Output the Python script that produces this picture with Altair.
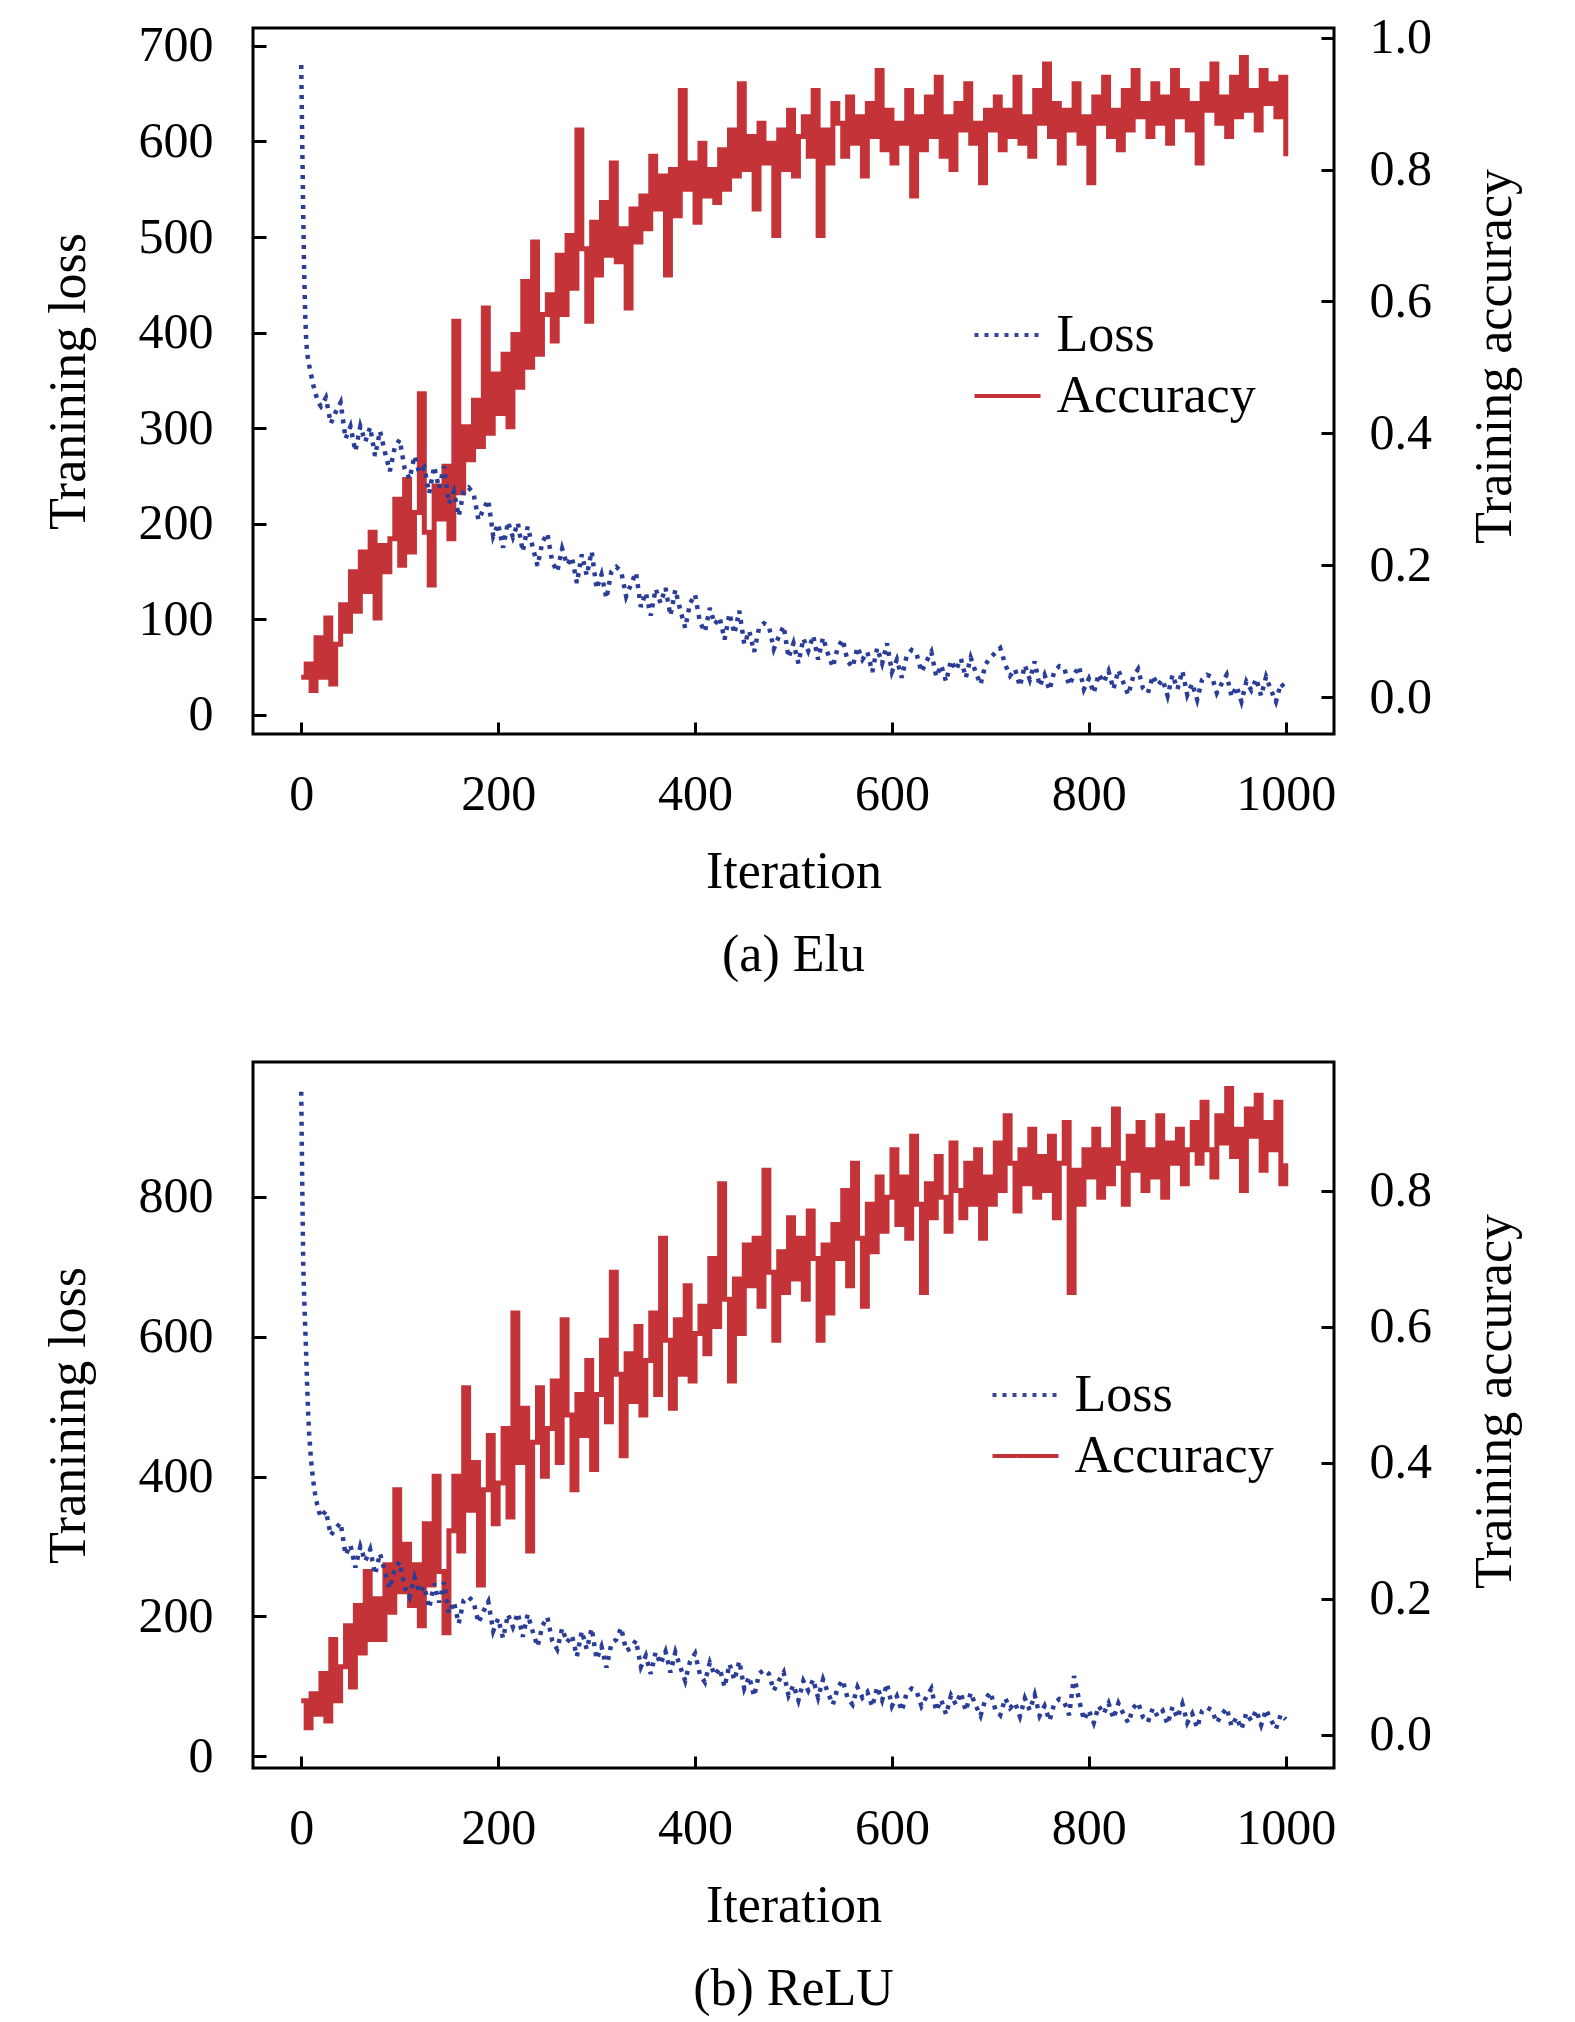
import altair as alt
import pandas as pd

RED = "#c0282d"
BLUE = "#2b3d96"
FONT = "Liberation Serif"

X_TICKS = [0, 200, 400, 600, 800, 1000]

# ---------------- (a) Elu ----------------
A_LOSS_ITER = [0, 1, 2, 3, 4, 5, 6, 8, 10, 12, 14, 16, 18, 20] + list(range(25, 1001, 5))
A_LOSS = [
    680, 600, 525, 462, 420, 393, 378, 366, 356, 346, 338, 331, 326, 323,
    332, 305, 317, 327, 289, 302, 276, 302, 286, 301,
    271, 297, 275, 255, 280, 288, 258, 247, 271, 253,
    259, 232, 260, 237, 260, 221, 234, 208, 234, 238,
    232, 204, 215, 225, 187, 200, 175, 202, 186, 201,
    171, 197, 176, 156, 181, 190, 160, 150, 174, 157,
    165, 138, 168, 146, 171, 132, 147, 122, 150, 155,
    150, 124, 137, 149, 113, 128, 104, 132, 117, 133,
    104, 131, 110, 91, 117, 126, 97, 87, 112, 95,
    102, 79, 106, 85, 109, 74, 88, 66, 91, 96,
    93, 69, 82, 93, 60, 75, 54, 80, 67, 83,
    58, 81, 64, 50, 71, 79, 56, 50, 71, 58,
    66, 45, 70, 54, 75, 45, 58, 39, 62, 68,
    64, 45, 56, 66, 40, 52, 35, 57, 47, 59,
    39, 60, 45, 32, 53, 60, 65, 70, 53, 41,
    48, 30, 52, 37, 56, 30, 42, 26, 46, 51,
    49, 31, 42, 51, 27, 38, 23, 43, 34, 46,
    27, 47, 34, 21, 40, 48, 28, 23, 41, 31,
    37, 20, 42, 27, 46, 21, 33, 16, 37, 42,
    40, 23, 33, 42, 19, 30, 14, 35, 26, 38,
    20, 40, 26, 14, 33, 27,
]
# accuracy, one value every 5 iterations (0..1000)
A_ACC = [
    0.03, 0.05, 0.01,
    0.09, 0.03, 0.12, 0.02, 0.08,
    0.14, 0.10, 0.19, 0.13,
    0.22, 0.16, 0.25, 0.12, 0.23, 0.19,
    0.24, 0.30, 0.20, 0.33, 0.22, 0.28, 0.46, 0.25, 0.17, 0.32, 0.27,
    0.35, 0.24, 0.57, 0.31, 0.41, 0.36,
    0.45, 0.38, 0.59, 0.40, 0.49, 0.43, 0.52, 0.41,
    0.55, 0.47, 0.63, 0.50, 0.69, 0.52, 0.58,
    0.61, 0.54, 0.67, 0.58, 0.70, 0.62, 0.86,
    0.68, 0.57, 0.72, 0.64, 0.75, 0.67, 0.81, 0.66, 0.71, 0.59, 0.74, 0.69,
    0.76, 0.71, 0.82, 0.74, 0.79, 0.64, 0.80, 0.73, 0.92, 0.77, 0.81, 0.72, 0.84, 0.76, 0.80, 0.75,
    0.83, 0.77, 0.86, 0.79, 0.93, 0.80, 0.85, 0.74, 0.87, 0.81, 0.84, 0.70, 0.86, 0.80, 0.89, 0.79, 0.85,
    0.88, 0.82, 0.92, 0.70, 0.86, 0.81, 0.90,
    0.87, 0.82, 0.91, 0.84, 0.88, 0.79, 0.90, 0.85, 0.95, 0.83, 0.89, 0.81, 0.87, 0.84, 0.92, 0.76,
    0.88, 0.83, 0.91, 0.85, 0.94, 0.82, 0.88, 0.80, 0.90, 0.86, 0.93, 0.84, 0.87, 0.78, 0.89,
    0.86, 0.91, 0.83, 0.89, 0.85, 0.94, 0.84, 0.88, 0.82, 0.92, 0.87, 0.96, 0.85, 0.90, 0.81, 0.89,
    0.86, 0.93, 0.84, 0.88, 0.78, 0.91, 0.87, 0.94, 0.85, 0.89, 0.83, 0.92, 0.86, 0.95, 0.88,
    0.90, 0.85, 0.93, 0.87, 0.91, 0.84, 0.95, 0.88, 0.92, 0.86, 0.90, 0.81, 0.93, 0.89, 0.96,
    0.87, 0.91, 0.85, 0.94, 0.88, 0.97, 0.89, 0.92, 0.86, 0.95, 0.90, 0.93, 0.88, 0.94, 0.82,
]
A_LOSS_TICKS = [0, 100, 200, 300, 400, 500, 600, 700]
A_ACC_TICKS = [0.0, 0.2, 0.4, 0.6, 0.8, 1.0]

# ---------------- (b) ReLU ----------------
B_LOSS_ITER = [0, 1, 2, 3, 4, 5, 6, 7, 8, 10, 12, 14, 16, 18, 20] + list(range(25, 1001, 5))
B_LOSS = [
    950, 820, 705, 655, 615, 575, 530, 492, 462, 422, 396, 376, 361, 350, 342,
    351, 316, 326, 334, 288, 302, 270, 300, 279, 296,
    260, 290, 264, 240, 268, 278, 242, 228, 256, 234,
    243, 212, 247, 220, 249, 204, 221, 190, 223, 228,
    221, 191, 207, 221, 179, 197, 169, 203, 185, 205,
    171, 203, 179, 157, 187, 199, 165, 153, 183, 163,
    173, 143, 179, 153, 183, 139, 157, 127, 161, 167,
    184, 151, 155, 166, 128, 144, 118, 149, 132, 150,
    120, 149, 128, 108, 136, 147, 117, 106, 134, 116,
    126, 99, 132, 109, 136, 97, 114, 86, 118, 124,
    118, 94, 108, 120, 87, 102, 80, 108, 94, 110,
    84, 110, 91, 74, 99, 109, 83, 74, 99, 84,
    92, 71, 99, 80, 104, 72, 86, 65, 91, 97,
    93, 72, 85, 97, 65, 81, 60, 87, 74, 91,
    65, 91, 73, 58, 82, 92, 67, 59, 83, 69,
    77, 57, 83, 66, 88, 58, 72, 51, 76, 82,
    78, 59, 115, 81, 52, 66, 48, 72, 61, 76,
    54, 76, 61, 48, 69, 77, 56, 49, 69, 57,
    65, 46, 71, 55, 75, 48, 61, 41, 65, 70,
    66, 48, 60, 69, 43, 56, 39, 62, 51, 66,
    45, 67, 52, 39, 60, 53,
]
B_ACC = [
    0.05, 0.01, 0.06,
    0.03, 0.09, 0.02, 0.14, 0.05,
    0.10, 0.16, 0.07, 0.19, 0.12, 0.24, 0.14,
    0.20, 0.14, 0.25, 0.18, 0.36, 0.21, 0.28, 0.19,
    0.25, 0.16, 0.31, 0.22, 0.38, 0.24, 0.15,
    0.30, 0.38, 0.27, 0.51, 0.33, 0.40, 0.22, 0.36, 0.44, 0.31,
    0.37, 0.45, 0.32, 0.62, 0.40, 0.48, 0.27, 0.43, 0.51, 0.38,
    0.45, 0.52, 0.40, 0.61, 0.47, 0.36, 0.50, 0.44, 0.55, 0.39,
    0.50, 0.58, 0.46, 0.68, 0.53, 0.41, 0.56, 0.49, 0.60, 0.47,
    0.55, 0.62, 0.50, 0.73, 0.58, 0.48, 0.61, 0.53, 0.66, 0.52, 0.59,
    0.63, 0.56, 0.70, 0.60, 0.81, 0.64, 0.52, 0.67, 0.59, 0.72,
    0.66, 0.73, 0.63, 0.83, 0.68, 0.58, 0.71, 0.65, 0.76, 0.67, 0.73,
    0.64, 0.77, 0.70, 0.58, 0.72, 0.62, 0.75,
    0.70, 0.80, 0.66, 0.84, 0.73, 0.63, 0.78, 0.71, 0.82, 0.74,
    0.79, 0.86, 0.75, 0.82, 0.73, 0.88, 0.78, 0.65, 0.81, 0.76,
    0.85, 0.79, 0.74, 0.87, 0.80, 0.76, 0.84, 0.78, 0.86, 0.73,
    0.82, 0.78, 0.87, 0.80, 0.91, 0.84, 0.77, 0.86, 0.81, 0.89, 0.79,
    0.85, 0.80, 0.88, 0.76, 0.84, 0.90, 0.65, 0.83, 0.78, 0.86,
    0.82, 0.89, 0.79, 0.86, 0.81, 0.92, 0.84, 0.78, 0.88, 0.83, 0.90,
    0.80, 0.86, 0.82, 0.91, 0.79, 0.87, 0.84, 0.89, 0.81, 0.86,
    0.90, 0.84, 0.93, 0.86, 0.82, 0.91, 0.87, 0.95, 0.85, 0.89,
    0.80, 0.92, 0.88, 0.94, 0.83, 0.90, 0.86, 0.93, 0.81, 0.84,
]
B_LOSS_TICKS = [0, 200, 400, 600, 800]
B_ACC_TICKS = [0.0, 0.2, 0.4, 0.6, 0.8]

SERIES = ["Loss", "Accuracy"]

PLOT_W = 1081
PLOT_H = 706


def panel(loss_iter, loss_vals, acc_vals, loss_dom, acc_dom, loss_ticks,
          acc_ticks, caption, leg_x, leg_y, acc_title_y):
    n = min(len(loss_iter), len(loss_vals))
    loss_df = pd.DataFrame({"Iteration": loss_iter[:n], "value": loss_vals[:n],
                            "series": "Loss"})
    acc_df = pd.DataFrame({"Iteration": [5 * i for i in range(len(acc_vals))],
                           "value": acc_vals, "series": "Accuracy"})

    x = alt.X("Iteration:Q",
              scale=alt.Scale(domain=[-49, 1049], nice=False, zero=False),
              axis=alt.Axis(values=X_TICKS, format="d", title="Iteration",
                            offset=-12, tickSize=12, labelPadding=35,
                            titlePadding=27, grid=False, domain=False))

    legend = alt.Legend(title=None, orient="none", legendX=leg_x, legendY=leg_y,
                        symbolType="stroke", symbolSize=4356,
                        symbolStrokeWidth=4, labelFont=FONT,
                        labelFontSize=52, labelColor="black", labelOffset=14,
                        labelLimit=500, rowPadding=-22, padding=0)
    color = alt.Color("series:N",
                      scale=alt.Scale(domain=SERIES, range=[BLUE, RED]),
                      legend=legend)
    dash = alt.StrokeDash("series:N",
                          scale=alt.Scale(domain=SERIES, range=[[4, 6], [1, 0]]),
                          legend=legend)

    acc_line = alt.Chart(acc_df).mark_line(
        strokeWidth=5, interpolate="step-after", opacity=0.95
    ).encode(
        x=x,
        y=alt.Y("value:Q",
                scale=alt.Scale(domain=acc_dom, nice=False, zero=False),
                axis=alt.Axis(orient="right", title="Training accuracy",
                              values=acc_ticks, format=".1f", offset=-13,
                              tickSize=13, labelPadding=35, titlePadding=90,
                              titleAngle=270, titleY=acc_title_y,
                              grid=False, domain=False)),
        color=color,
        strokeDash=dash,
    )
    loss_line = alt.Chart(loss_df).mark_line(strokeWidth=4.5).encode(
        x=x,
        y=alt.Y("value:Q",
                scale=alt.Scale(domain=loss_dom, nice=False, zero=False),
                axis=alt.Axis(orient="left", title="Tranining loss",
                              values=loss_ticks, format="d", offset=-13,
                              tickSize=13, labelPadding=40, titlePadding=43,
                              grid=False, domain=False)),
        color=color,
        strokeDash=dash,
    )
    return alt.layer(acc_line, loss_line).resolve_scale(y="independent").properties(
        width=PLOT_W, height=PLOT_H,
        title=alt.TitleParams(caption, orient="bottom", font=FONT, fontSize=52,
                              fontWeight="normal", color="black", offset=33),
    )


top = panel(A_LOSS_ITER, A_LOSS, A_ACC, [-19.9, 718.7], [-0.056, 1.0146],
            A_LOSS_TICKS, A_ACC_TICKS, "(a) Elu", 719.5, 272, 328)
bottom = panel(B_LOSS_ITER, B_LOSS, B_ACC, [-16.6, 992.6], [-0.049, 0.989],
               B_LOSS_TICKS, B_ACC_TICKS, "(b) ReLU", 737.5, 298, 339)

chart = alt.vconcat(top, bottom, spacing=77).resolve_scale(
    color="independent", strokeDash="independent"
).properties(
    padding={"left": 32, "top": 3, "right": 5, "bottom": 5},
    background="white",
).configure_view(
    stroke="black", strokeWidth=3
).configure_axis(
    labelFont=FONT, labelFontSize=50, labelColor="black",
    titleFont=FONT, titleFontSize=52, titleFontWeight="normal",
    titleColor="black", tickColor="black", tickWidth=3,
)

chart.save("out.html", embed_options={"renderer": "svg", "actions": False})
